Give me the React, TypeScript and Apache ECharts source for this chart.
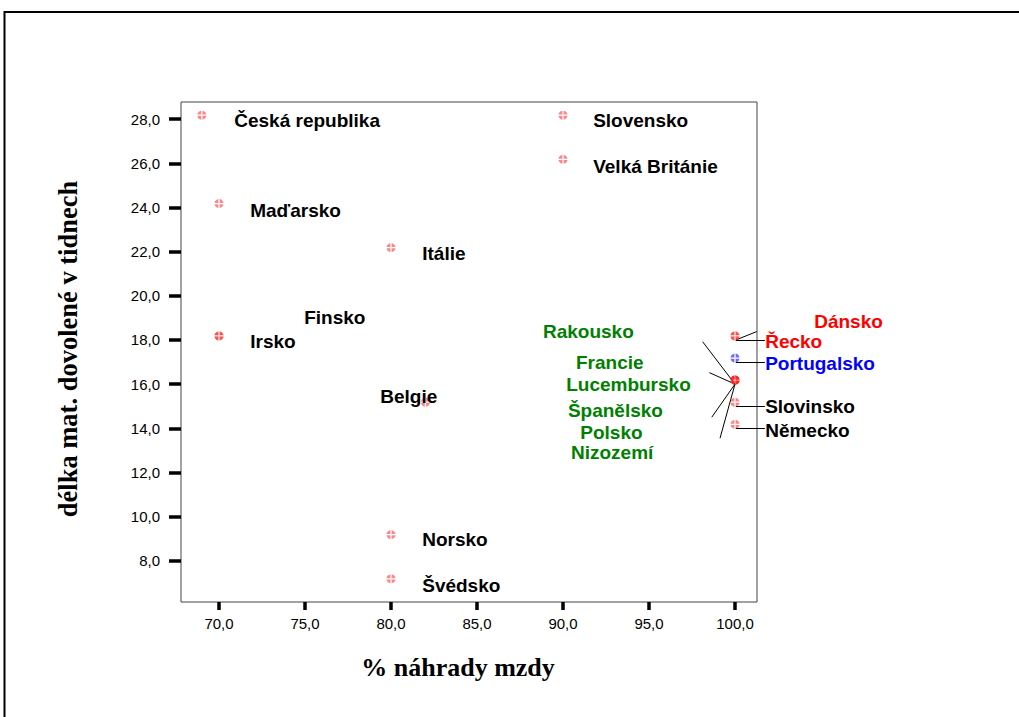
import React, { useEffect, useRef } from "react";
import * as echarts from "echarts";

// ---- data ----
const countries = [
  "Česká republika", "Slovensko", "Velká Británie", "Maďarsko", "Itálie", "Finsko", "Irsko",
  "Belgie", "Norsko", "Švédsko", "Rakousko", "Francie", "Lucembursko", "Španělsko", "Polsko",
  "Nizozemí", "Dánsko", "Řecko", "Portugalsko", "Slovinsko", "Německo",
];
const wageReplacement = [69, 90, 90, 70, 80, 70, 70, 82, 80, 80, 100, 100, 100, 100, 100, 100, 100, 100, 100, 100, 100];
const leaveWeeks = [28, 28, 26, 24, 22, 18, 18, 15, 9, 7, 16, 16, 16, 16, 16, 16, 18, 18, 17, 15, 14];
// colour group of each label: k = black, g = green, r = red, b = blue
const labelGroup = ["k", "k", "k", "k", "k", "k", "k", "k", "k", "k", "g", "g", "g", "g", "g", "g", "r", "r", "b", "k", "k"];

// label anchors (left edge / vertical middle) in data units
const labelAnchorX = [70.87, 91.74, 91.74, 71.8, 81.8, 74.94, 71.8, 79.36, 81.8, 81.8, 88.82, 90.74, 90.17, 90.27, 90.99, 90.45, 104.59, 101.74, 101.74, 101.74, 101.74];
const labelAnchorY = [27.92, 27.92, 25.86, 23.85, 21.9, 19.0, 17.91, 15.42, 8.94, 6.9, 18.38, 16.96, 15.98, 14.81, 13.79, 12.88, 18.85, 17.91, 16.93, 14.98, 13.9];

// leader lines in data units
const leaderLines = [
  [[100.05, 18], [101.26, 18.38]],
  [[100.05, 18], [101.74, 18]],
  [[100.05, 17], [101.74, 17]],
  [[100.05, 15], [101.74, 15]],
  [[100.05, 14], [101.74, 14]],
  [[100, 16], [98.12, 17.92]],
  [[100, 16], [98.51, 16.52]],
  [[100, 16], [98.65, 14.5]],
  [[100, 16], [99.13, 13.55]],
];

const xTicks = [70, 75, 80, 85, 90, 95, 100];
const yTicks = [8, 10, 12, 14, 16, 18, 20, 22, 24, 26, 28];

const xTitle = "% náhrady mzdy";
const yTitle = "délka mat. dovolené v tidnech";

const labelColors: Record<string, string> = { k: "#000000", g: "#008000", r: "#ff0000", b: "#0000ff" };
const markerColors: Record<string, string> = { k: "rgba(255,40,40,0.7)", g: "rgba(255,40,40,0.7)", r: "rgba(255,40,40,0.7)", b: "rgba(30,30,255,0.8)" };

// disc cut by a white cross
const crossDisc =
  "path://M0.14,-0.14L0.14,-0.99L0.5,-0.87L0.8,-0.6L0.99,-0.14Z" +
  "M0.14,0.14L0.99,0.14L0.87,0.5L0.6,0.8L0.14,0.99Z" +
  "M-0.14,0.14L-0.14,0.99L-0.5,0.87L-0.8,0.6L-0.99,0.14Z" +
  "M-0.14,-0.14L-0.99,-0.14L-0.87,-0.5L-0.6,-0.8L-0.14,-0.99Z";

const fmt = (v: number) => v.toFixed(1).replace(".", ",");

export default function App() {
  const ref = useRef<HTMLDivElement>(null);
  useEffect(() => {
    if (!ref.current) return;
    const chart = echarts.init(ref.current, undefined, { renderer: "svg" });
    chart.setOption({
      animation: false,
      backgroundColor: "#ffffff",
      grid: { left: 181, top: 102, width: 576, height: 500, show: true, borderColor: "#444", borderWidth: 1, containLabel: false },
      xAxis: {
        type: "value",
        min: 67.79,
        max: 101.28,
        splitLine: { show: false },
        axisLine: { show: false },
        axisTick: { show: true, customValues: xTicks, length: 8, lineStyle: { color: "#000", width: 3.5 } },
        axisLabel: { customValues: xTicks, formatter: fmt, color: "#000", fontSize: 15, fontFamily: "Liberation Sans, Arial", margin: 14 },
      },
      yAxis: {
        type: "value",
        min: 6.13,
        max: 28.78,
        splitLine: { show: false },
        axisLine: { show: false },
        axisTick: { show: true, customValues: yTicks, length: 12, lineStyle: { color: "#000", width: 3.5 } },
        axisLabel: { customValues: yTicks, formatter: fmt, color: "#000", fontSize: 15, fontFamily: "Liberation Sans, Arial", margin: 21 },
      },
      series: [
        {
          type: "lines",
          coordinateSystem: "cartesian2d",
          clip: false,
          silent: true,
          lineStyle: { color: "#000", width: 1, opacity: 1 },
          data: leaderLines.map((c) => ({ coords: c })),
          z: 3,
        },
        {
          type: "scatter",
          clip: false,
          symbol: crossDisc,
          symbolSize: 9,
          symbolOffset: [0, -4],
          data: countries.map((c, i) => ({
            name: c,
            value: [wageReplacement[i], leaveWeeks[i]],
            itemStyle: { color: markerColors[labelGroup[i]] },
          })),
          z: 4,
        },
        {
          type: "scatter",
          clip: false,
          symbol: "circle",
          symbolSize: 0.5,
          itemStyle: { color: "#ffffff", opacity: 1 },
          silent: true,
          data: countries.map((c, i) => ({
            name: c,
            value: [labelAnchorX[i], labelAnchorY[i]],
            label: { color: labelColors[labelGroup[i]] },
          })),
          label: {
            show: true,
            position: "right",
            distance: 0,
            opacity: 1,
            formatter: (p: any) => p.name,
            fontFamily: "Liberation Sans, Arial",
            fontWeight: "bold",
            fontSize: 19,
          },
          z: 5,
        },
      ],
      graphic: [
        { type: "rect", shape: { x: 4.5, y: 12, width: 1100, height: 800 }, style: { fill: "none", stroke: "#000", lineWidth: 2 }, silent: true },
        {
          type: "text",
          x: 458,
          y: 667,
          style: { text: xTitle, font: "bold 26px 'Liberation Serif', 'Times New Roman', serif", fill: "#000", textAlign: "center", textVerticalAlign: "middle" },
        },
        {
          type: "text",
          x: 68,
          y: 349,
          rotation: Math.PI / 2,
          style: { text: yTitle, font: "bold 26.5px 'Liberation Serif', 'Times New Roman', serif", fill: "#000", textAlign: "center", textVerticalAlign: "middle" },
        },
      ],
    });
    return () => chart.dispose();
  }, []);
  return <div ref={ref} style={{ position: "absolute", left: 0, top: 0, width: 1019, height: 717 }} />;
}
